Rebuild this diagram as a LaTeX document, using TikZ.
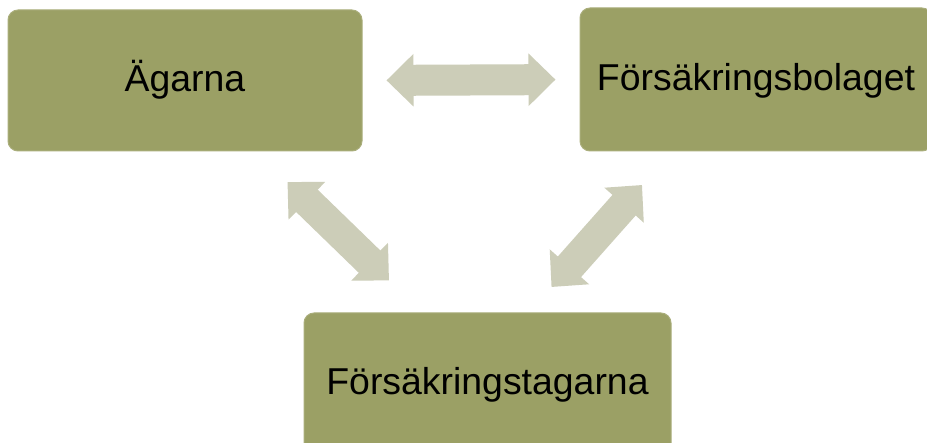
\documentclass[tikz,border=0pt]{standalone}
\usepackage{fontspec}
\setmainfont{Liberation Sans}
\usetikzlibrary{arrows.meta}
\definecolor{boxfill}{RGB}{155,160,101}
\definecolor{arrowfill}{RGB}{204,205,184}
\tikzset{
  box/.style={draw=boxfill!85!white, line width=1pt, fill=boxfill, rounded corners=10pt,
    inner sep=0pt, text height=30pt, text depth=8pt,
    font=\fontsize{37.4}{44}\selectfont, text=black},
  dblarrow/.style={draw=arrowfill, line width=31pt,
    {Triangle[width=51pt,length=27pt]}-{Triangle[width=51pt,length=27pt]}}
}
\begin{document}
\begin{tikzpicture}[x=1pt,y=-1pt]
\clip (0,0) rectangle (927,443);
\fill[white] (0,0) rectangle (927,443);
\node[box, minimum width=354pt, minimum height=141pt] (a) at (185,80.5) {Ägarna};
\node[box, minimum width=352pt, minimum height=143pt] (b) at (756,79.5) {Försäkringsbolaget};
\node[box, minimum width=367pt, minimum height=141pt] (c) at (487.5,383.5) {Försäkringstagarna};
\coordinate (d1s) at (287.5,182);
\coordinate (d1e) at (389,280.5);
\coordinate (d2s) at (642,185);
\coordinate (d2e) at (551.5,287);
\draw[dblarrow, shorten <=24pt, shorten >=24pt] (a.east) -- (b.west);
\draw[dblarrow] (d1s) -- (d1e);
\draw[dblarrow] (d2s) -- (d2e);
\end{tikzpicture}
\end{document}
